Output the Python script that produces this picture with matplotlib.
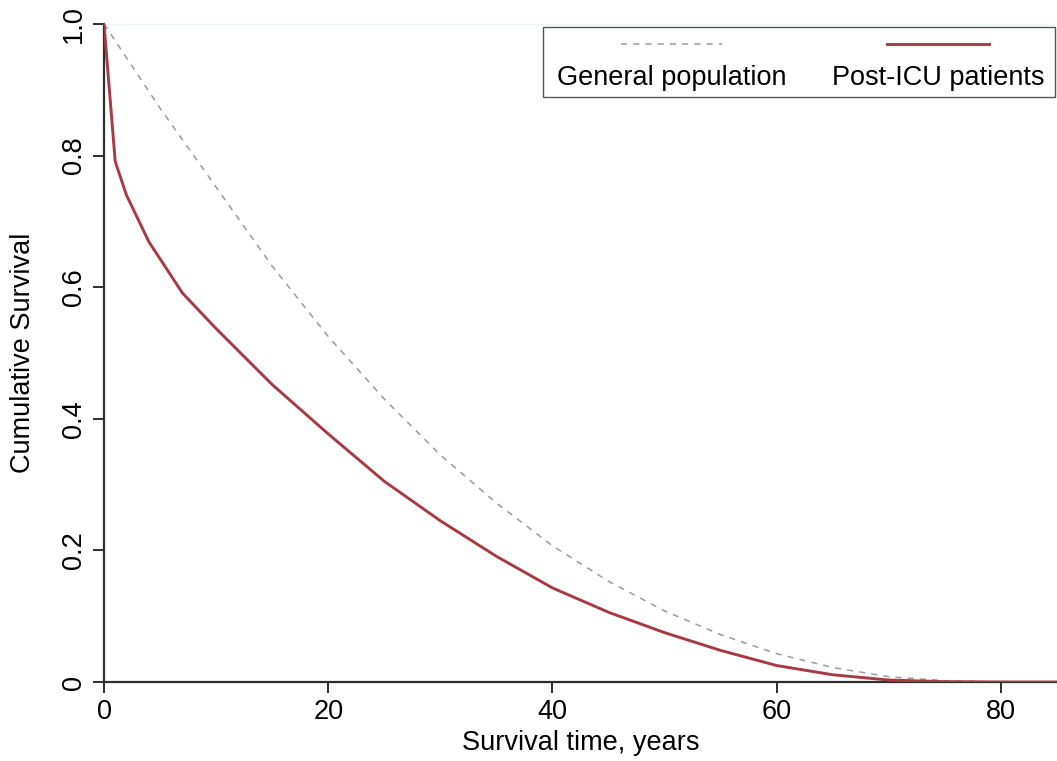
import matplotlib
matplotlib.use("Agg")
import matplotlib.pyplot as plt
from matplotlib.lines import Line2D
from matplotlib.patches import Rectangle

plt.rcParams['font.family'] = ['Liberation Sans', 'DejaVu Sans']

# Survival curves (years, cumulative survival)
gen_years = [0, 5, 10, 15, 20, 25, 30, 35, 40, 45, 50, 55, 60, 65, 70, 75, 80, 85]
gen_surv = [1.0, 0.872, 0.752, 0.632, 0.525, 0.43, 0.345, 0.272, 0.207, 0.153,
            0.108, 0.072, 0.043, 0.022, 0.008, 0.002, 0.0, 0.0]

icu_years = [0, 1, 2, 4, 7, 10, 15, 20, 25, 30, 35, 40, 45, 50, 55, 60, 65, 70, 75, 80, 85]
icu_surv = [1.0, 0.791, 0.74, 0.669, 0.591, 0.537, 0.452, 0.377, 0.305, 0.245,
            0.191, 0.143, 0.106, 0.075, 0.048, 0.025, 0.011, 0.003, 0.0005, 0.0, 0.0]

series_labels = ["General population", "Post-ICU patients"]
x_ticks = [0, 20, 40, 60, 80]
y_ticks = [0, 0.2, 0.4, 0.6, 0.8, 1.0]
y_tick_labels = ["0", "0.2", "0.4", "0.6", "0.8", "1.0"]

red = "#a83a45"
gray = "#9a9a9a"
axis_col = "#2e2e2e"
fs = 19.5

fig = plt.figure(figsize=(10.57, 7.61), dpi=100)
ax = fig.add_axes([0.0984, 0.1038, 0.9016, 0.8647])

ax.plot(gen_years, gen_surv, color=gray, lw=1.1, linestyle=(0, (4, 4)), zorder=2)
ax.plot(icu_years, icu_surv, color=red, lw=2.1, zorder=3)

ax.set_xlim(0, 85)
ax.set_ylim(0, 1.0)
ax.set_xticks(x_ticks)
ax.set_xticklabels([str(t) for t in x_ticks], fontsize=fs)
ax.set_yticks(y_ticks)
ax.set_yticklabels(y_tick_labels, fontsize=fs, rotation=90, va='center')

ax.spines["right"].set_visible(False)
ax.spines["top"].set_color("#eef5f5")
ax.spines["top"].set_linewidth(1.0)
for side in ("left", "bottom"):
    ax.spines[side].set_color(axis_col)
    ax.spines[side].set_linewidth(1.6)
ax.tick_params(axis='both', direction='out', length=8, width=1.4, color=axis_col,
               labelcolor='black', pad=4)

ax.set_xlabel("Survival time, years", fontsize=fs, labelpad=4)
ax.set_ylabel("Cumulative Survival", fontsize=fs, labelpad=18)

# Legend box with keys stacked above their labels
W, H = 1057.0, 761.0
def fx(px):
    return px / W
def fy(py):
    return 1 - py / H

fig.patches.append(Rectangle((fx(543), fy(97)), fx(1055) - fx(543), fy(27) - fy(97),
                             transform=fig.transFigure, facecolor='white',
                             edgecolor='#555555', lw=1.0, zorder=5))
fig.lines.append(Line2D([fx(621), fx(722)], [fy(44), fy(44)], transform=fig.transFigure,
                        color=gray, lw=1.1, linestyle=(0, (4, 4)), zorder=6))
fig.lines.append(Line2D([fx(887), fx(989)], [fy(44), fy(44)], transform=fig.transFigure,
                        color=red, lw=2.1, zorder=6))
fig.text(fx(672), fy(78), series_labels[0], fontsize=fs, ha='center', va='center', zorder=6)
fig.text(fx(938), fy(78), series_labels[1], fontsize=fs, ha='center', va='center', zorder=6)

fig.savefig("out.png", dpi=100, facecolor='white')
